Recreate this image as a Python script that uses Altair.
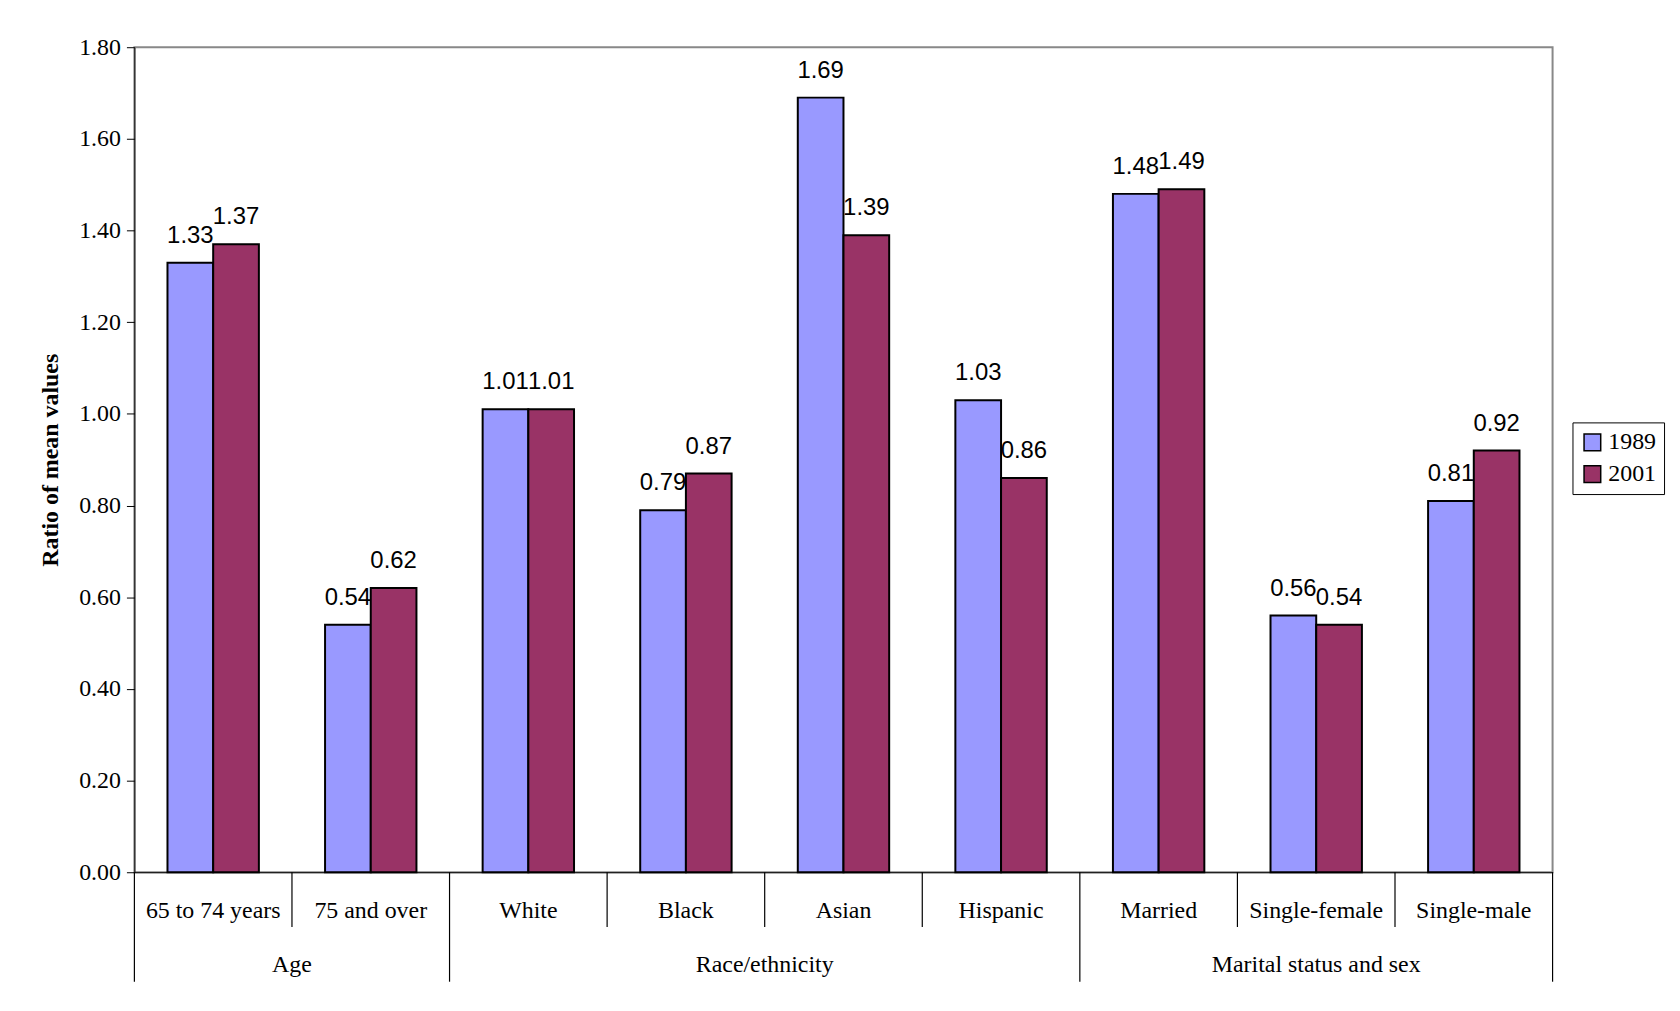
import altair as alt
import pandas as pd

categories = ["65 to 74 years", "75 and over", "White", "Black", "Asian", "Hispanic",
              "Married", "Single-female", "Single-male"]
v1989 = [1.33, 0.54, 1.01, 0.79, 1.69, 1.03, 1.48, 0.56, 0.81]
v2001 = [1.37, 0.62, 1.01, 0.87, 1.39, 0.86, 1.49, 0.54, 0.92]
groups = ["Age", "Race/ethnicity", "Marital status and sex"]
group_mid = [1, 4, 7.5]
bounds = [0, 1, 2, 3, 4, 5, 6, 7, 8, 9]
long_bounds = [0, 2, 6, 9]

W, H = 1425, 829
FONT = "Liberation Serif"
FS = 24

rows = []
for c, a, b in zip(categories, v1989, v2001):
    rows.append({"cat": c, "year": "1989", "v": a})
    rows.append({"cat": c, "year": "2001", "v": b})
df = pd.DataFrame(rows)

x = alt.X("cat:N", sort=categories, title=None,
          scale=alt.Scale(paddingInner=0.42, paddingOuter=0.21),
          axis=alt.Axis(labelAngle=0, labelFont=FONT, labelFontSize=FS, labelColor="black",
                        labelPadding=26, ticks=False, domainColor="black", labelLimit=300))
y = alt.Y("v:Q", scale=alt.Scale(domain=[0, 1.8]), title="Ratio of mean values",
          axis=alt.Axis(values=[i / 5 for i in range(10)], format=".2f", grid=False,
                        labelFont=FONT, labelFontSize=FS, labelColor="black", tickColor="black",
                        domainColor="black", tickSize=8, labelPadding=6, titleFont=FONT,
                        titleFontSize=FS, titleFontWeight="bold", titleColor="black",
                        titlePadding=16))
color = alt.Color("year:N", scale=alt.Scale(domain=["1989", "2001"], range=["#9999ff", "#993366"]),
                  legend=alt.Legend(title=None, orient="none", legendX=1445, legendY=377,
                                    labelFont=FONT, labelFontSize=FS, labelColor="black",
                                    symbolType="square", symbolSize=280, symbolStrokeColor="black",
                                    symbolStrokeWidth=1.5, strokeColor="black", padding=8,
                                    rowPadding=8, symbolOpacity=1))

base = alt.Chart(df).encode(x=x, xOffset=alt.XOffset("year:N", sort=["1989", "2001"]))
bars = base.mark_bar(stroke="black", strokeWidth=2).encode(y=y, color=color)
labels = base.mark_text(dy=-27, font="Liberation Sans", fontSize=FS, color="black").encode(
    y="v:Q", text=alt.Text("v:Q", format=".2f"))

sep = pd.DataFrame({"b": bounds})
xq = alt.X("b:Q", scale=alt.Scale(domain=[0, 9]), axis=None)
short = alt.Chart(sep[~sep.b.isin(long_bounds)]).mark_rule(color="black", strokeWidth=1.2).encode(
    x=xq, y=alt.value(H), y2=alt.value(H + 55))
longr = alt.Chart(sep[sep.b.isin(long_bounds)]).mark_rule(color="black", strokeWidth=1.2).encode(
    x=xq, y=alt.value(H), y2=alt.value(H + 110))
gl = alt.Chart(pd.DataFrame({"g": groups, "m": group_mid})).mark_text(
    font=FONT, fontSize=FS, color="black").encode(
    x=alt.X("m:Q", scale=alt.Scale(domain=[0, 9]), axis=None), y=alt.value(H + 93), text="g:N")

chart = alt.layer(
    alt.layer(bars, labels),
    alt.layer(short, longr, gl),
).resolve_scale(x="independent").properties(
    width=W, height=H, autosize="none",
    padding={"left": 127, "top": 37, "right": 120, "bottom": 130},
).configure_view(stroke="#888888", strokeWidth=2)

chart.save("out.html", embed_options={"renderer": "svg", "actions": False})
